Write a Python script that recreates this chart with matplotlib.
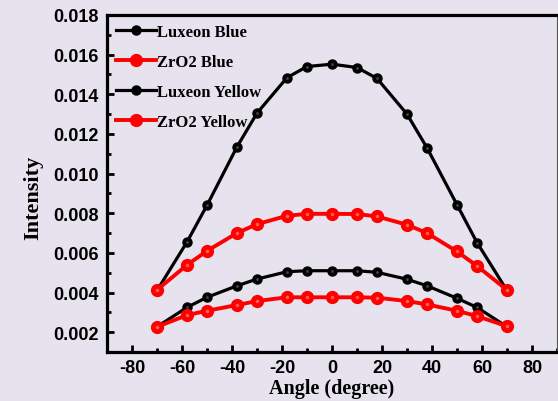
import matplotlib
matplotlib.use("Agg")
import matplotlib.pyplot as plt
from matplotlib.ticker import MultipleLocator, FormatStrFormatter

plt.rcParams["axes.unicode_minus"] = False

angles = [-70, -58, -50, -38, -30, -18, -10, 0, 10, 18, 30, 38, 50, 58, 70]
luxeon_blue = [0.0041, 0.00655, 0.0084, 0.01135, 0.01305, 0.01484, 0.0154, 0.01552,
               0.01535, 0.0148, 0.013, 0.0113, 0.00843, 0.00652, 0.0041]
zro2_blue = [0.00413, 0.00539, 0.0061, 0.007, 0.00745, 0.00787, 0.00797, 0.00797,
             0.00796, 0.00784, 0.00742, 0.007, 0.00607, 0.00534, 0.00413]
luxeon_yellow = [0.00227, 0.00325, 0.00376, 0.00434, 0.00468, 0.00505, 0.0051, 0.0051,
                 0.0051, 0.00502, 0.00467, 0.00434, 0.00371, 0.00325, 0.00227]
zro2_yellow = [0.00227, 0.00286, 0.00308, 0.00337, 0.00357, 0.00376, 0.00376, 0.00376,
               0.00376, 0.00374, 0.00357, 0.0034, 0.00308, 0.00281, 0.0023]
labels = ["Luxeon Blue", "ZrO2 Blue", "Luxeon Yellow", "ZrO2 Yellow"]
series = [luxeon_blue, zro2_blue, luxeon_yellow, zro2_yellow]

bg = "#E6E2EE"
fig = plt.figure(figsize=(5.58, 4.02), dpi=100, facecolor=bg)
ax = fig.add_axes([107/558, 49/402, 450/558, 337/402], facecolor=bg)

styles = {
    "black": dict(color="black", lw=2.3, ms=6.5, hl="#4a4a4a"),
    "red": dict(color="#FF0000", lw=2.8, ms=8.5, hl="#ff5a5a"),
}
handles = []
for lab, ys in zip(labels, series):
    st = styles["red"] if lab.startswith("ZrO2") else styles["black"]
    h, = ax.plot(angles, ys, color=st["color"], lw=st["lw"], marker="o",
                 ms=st["ms"], mfc=st["color"], mec=st["color"], label=lab, zorder=3)
    ax.plot(angles, ys, ls="none", marker="o", ms=st["ms"]*0.3,
            mfc=st["hl"], mec="none", zorder=4)
    handles.append(h)

ax.set_xlim(-90, 90)
ax.set_ylim(0.001, 0.018)
ax.xaxis.set_major_locator(MultipleLocator(20))
ax.xaxis.set_minor_locator(MultipleLocator(10))
ax.yaxis.set_major_locator(MultipleLocator(0.002))
ax.yaxis.set_minor_locator(MultipleLocator(0.001))
ax.yaxis.set_major_formatter(FormatStrFormatter("%.3f"))
ax.set_yticks([0.002, 0.004, 0.006, 0.008, 0.010, 0.012, 0.014, 0.016, 0.018])

ax.tick_params(which="major", direction="in", length=5, width=2, pad=6,
               labelsize=13, top=False, right=False)
ax.tick_params(which="minor", direction="in", length=3, width=2, top=False, right=False)
ax.tick_params(axis="x", pad=5)
for lbl in ax.get_xticklabels() + ax.get_yticklabels():
    lbl.set_family("Liberation Sans")
    lbl.set_fontweight("bold")

for s in ["left", "bottom", "top"]:
    ax.spines[s].set_linewidth(2.3)
ax.spines["right"].set_linewidth(0.8)
ax.spines["right"].set_color("#555555")

ax.set_xlabel("Angle (degree)", family="Liberation Serif", fontweight="bold", fontsize=14.5)
ax.set_ylabel("Intensity", family="Liberation Serif", fontweight="bold", fontsize=16)
ax.xaxis.set_label_coords(0.5, -0.078)
ax.yaxis.set_label_coords(-0.142, 0.46)

leg = ax.legend(handles=handles, loc="upper left", bbox_to_anchor=(0.0, 1.0),
                frameon=False, prop=dict(family="Liberation Serif", weight="bold", size=12),
                handlelength=2.4, handletextpad=0.05, labelspacing=0.84,
                borderaxespad=0.0, borderpad=0.55)

fig.savefig("out.png", dpi=100, facecolor=bg)
